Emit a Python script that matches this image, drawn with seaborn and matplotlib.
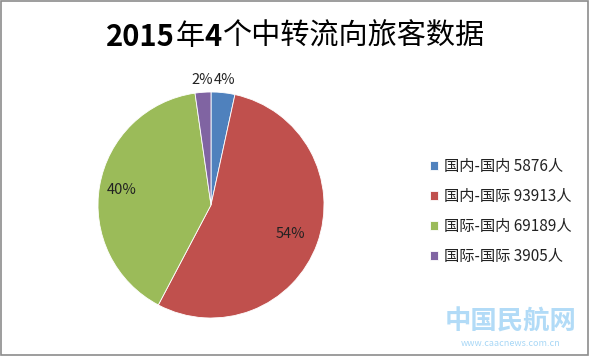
""" 2015年4个中转流向旅客数据 - pie chart """

import matplotlib
matplotlib.use("Agg")
import matplotlib.pyplot as plt
from matplotlib.patches import Rectangle
import numpy as np
import seaborn as sns

# data
categories = ["国内-国内", "国内-国际", "国际-国内", "国际-国际"]
passengers = [5876, 93913, 69189, 3905]
pct_labels = ["4%", "54%", "40%", "2%"]
colors = ["#4F81BD", "#C0504D", "#9BBB59", "#8064A2"]
title_parts = [("2015", "bold"), ("年", "normal"), ("4", "bold"),
               ("个中转流向旅客数据", "normal")]

sns.set_theme(style="white")
plt.rcParams['font.family'] = ['Noto Sans CJK SC', 'DejaVu Sans']

fig = plt.figure(figsize=(5.9, 3.56), dpi=100)
fig.patch.set_facecolor("white")

# pie axes, placed so the disc sits left of centre
ax = fig.add_axes([98 / 590, 38 / 356, 226 / 590, 226 / 356])
wedges, _ = ax.pie(passengers, colors=colors, startangle=90, counterclock=False,
                   radius=1, wedgeprops=dict(edgecolor="white", linewidth=0.6))
ax.set_xlim(-1, 1)
ax.set_ylim(-1, 1)
ax.set_aspect("equal")
ax.axis("off")

# percentage labels: small slices outside, big ones inside
label_r = [1.11, 0.75, 0.80, 1.11]
for w, txt, r in zip(wedges, pct_labels, label_r):
    ang = np.deg2rad((w.theta1 + w.theta2) / 2)
    ax.text(r * np.cos(ang), r * np.sin(ang), txt, ha="center", va="center",
            fontsize=10.5, color="#222222")

legend_labels = ["{} {}人".format(c, v) for c, v in zip(categories, passengers)]
leg = fig.legend(wedges, legend_labels, loc="upper left",
                 bbox_to_anchor=(416 / 590, 1 - 144 / 356), frameon=False,
                 fontsize=11, handlelength=0.55, handleheight=0.55,
                 handletextpad=0.4, labelspacing=0.85)
for t in leg.get_texts():
    t.set_color("#222222")

# title: digits bold, CJK regular, laid out piece by piece
renderer = fig.canvas.get_renderer()
pieces = []
for s, wt in title_parts:
    pieces.append(fig.text(0, 1 - 37 / 356, s, ha="left", va="center",
                           fontsize=21, fontweight=wt, color="black"))
widths = [p.get_window_extent(renderer).width for p in pieces]
x = (590 - sum(widths)) / 2
for p, wd in zip(pieces, widths):
    p.set_x(x / 590)
    x += wd

# watermark
fig.text(511 / 590, 1 - 322 / 356, "中国民航网", ha="center", va="center",
         fontsize=19, fontweight="bold", color="#9FD3F5", alpha=0.8)
fig.text(511 / 590, 1 - 344 / 356, "www.caacnews.com.cn", ha="center", va="center",
         fontsize=6.5, color="#9FD3F5", alpha=0.9)

# grey frame round the picture
fig.patches.append(Rectangle((0.002, 0.003), 0.995, 0.993, transform=fig.transFigure,
                             fill=False, edgecolor="#8C8C8C", linewidth=1.2))

fig.savefig("out.png", dpi=100)
